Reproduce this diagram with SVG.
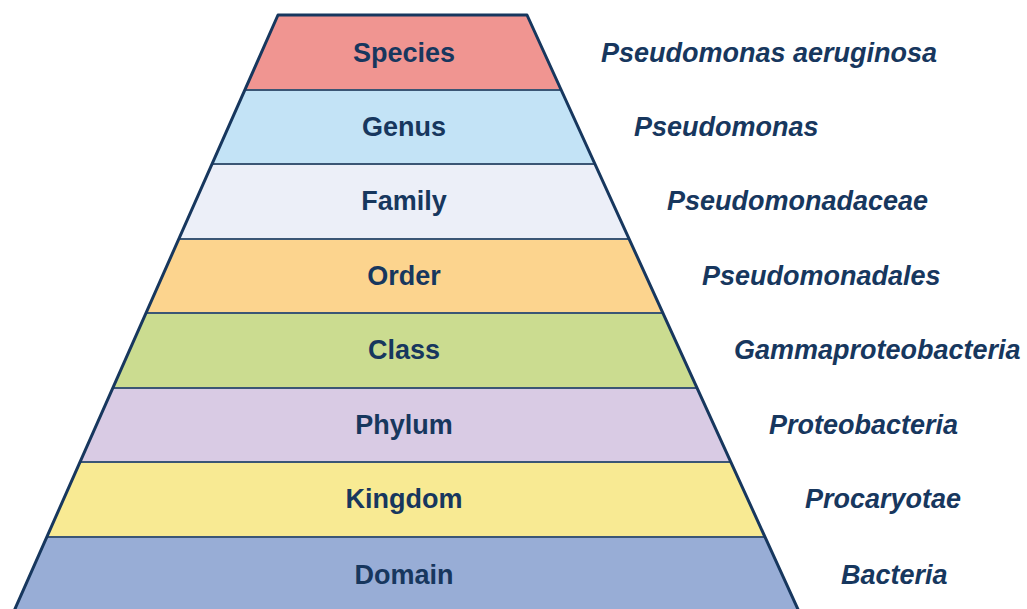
<svg xmlns="http://www.w3.org/2000/svg" width="1027" height="609" viewBox="0 0 1027 609">
<style>
.lbl{font-family:"Liberation Sans",Arial,sans-serif;font-weight:bold;font-size:27px;fill:#17375E;text-anchor:middle}
.tax{font-family:"Liberation Sans",Arial,sans-serif;font-weight:bold;font-style:italic;font-size:27px;fill:#17375E}
.sep{stroke:#3B5675;stroke-width:2;fill:none}
.out{stroke:#17375E;stroke-width:3;fill:none;stroke-linejoin:round}
</style>
<rect width="1027" height="609" fill="#FFFFFF"/>
<g id="species"><polygon points="278,15 527,15 561.2,90 244.8,90" fill="#F09591"/><text class="lbl" x="404" y="62">Species</text><text class="tax" x="601" y="62">Pseudomonas aeruginosa</text></g>
<g id="genus"><polygon points="244.8,90 561.2,90 594.9,164 212,164" fill="#C3E3F6"/><text class="lbl" x="404" y="136">Genus</text><text class="tax" x="634" y="136">Pseudomonas</text></g>
<g id="family"><polygon points="212,164 594.9,164 629.1,239 178.8,239" fill="#ECEFF8"/><text class="lbl" x="404" y="210">Family</text><text class="tax" x="667" y="210">Pseudomonadaceae</text></g>
<g id="order"><polygon points="178.8,239 629.1,239 662.9,313 146,313" fill="#FCD48E"/><text class="lbl" x="404" y="285">Order</text><text class="tax" x="702" y="285">Pseudomonadales</text></g>
<g id="class"><polygon points="146,313 662.9,313 697.1,388 112.8,388" fill="#CBDC90"/><text class="lbl" x="404" y="359">Class</text><text class="tax" x="734" y="359">Gammaproteobacteria</text></g>
<g id="phylum"><polygon points="112.8,388 697.1,388 730.8,462 80,462" fill="#D9CBE4"/><text class="lbl" x="404" y="434">Phylum</text><text class="tax" x="769" y="434">Proteobacteria</text></g>
<g id="kingdom"><polygon points="80,462 730.8,462 765,537 46.8,537" fill="#F8EA93"/><text class="lbl" x="404" y="508">Kingdom</text><text class="tax" x="805" y="508">Procaryotae</text></g>
<g id="domain"><polygon points="46.8,537 765,537 799.2,612 13.6,612" fill="#98ADD6"/><text class="lbl" x="404" y="584">Domain</text><text class="tax" x="841" y="584">Bacteria</text></g>
<g id="connectors">
<line class="sep" x1="244.8" y1="90" x2="561.2" y2="90"/>
<line class="sep" x1="212" y1="164" x2="594.9" y2="164"/>
<line class="sep" x1="178.8" y1="239" x2="629.1" y2="239"/>
<line class="sep" x1="146" y1="313" x2="662.9" y2="313"/>
<line class="sep" x1="112.8" y1="388" x2="697.1" y2="388"/>
<line class="sep" x1="80" y1="462" x2="730.8" y2="462"/>
<line class="sep" x1="46.8" y1="537" x2="765" y2="537"/>
<polyline class="out" points="13.6,612 278,15 527,15 799.2,612"/>
</g>
</svg>
